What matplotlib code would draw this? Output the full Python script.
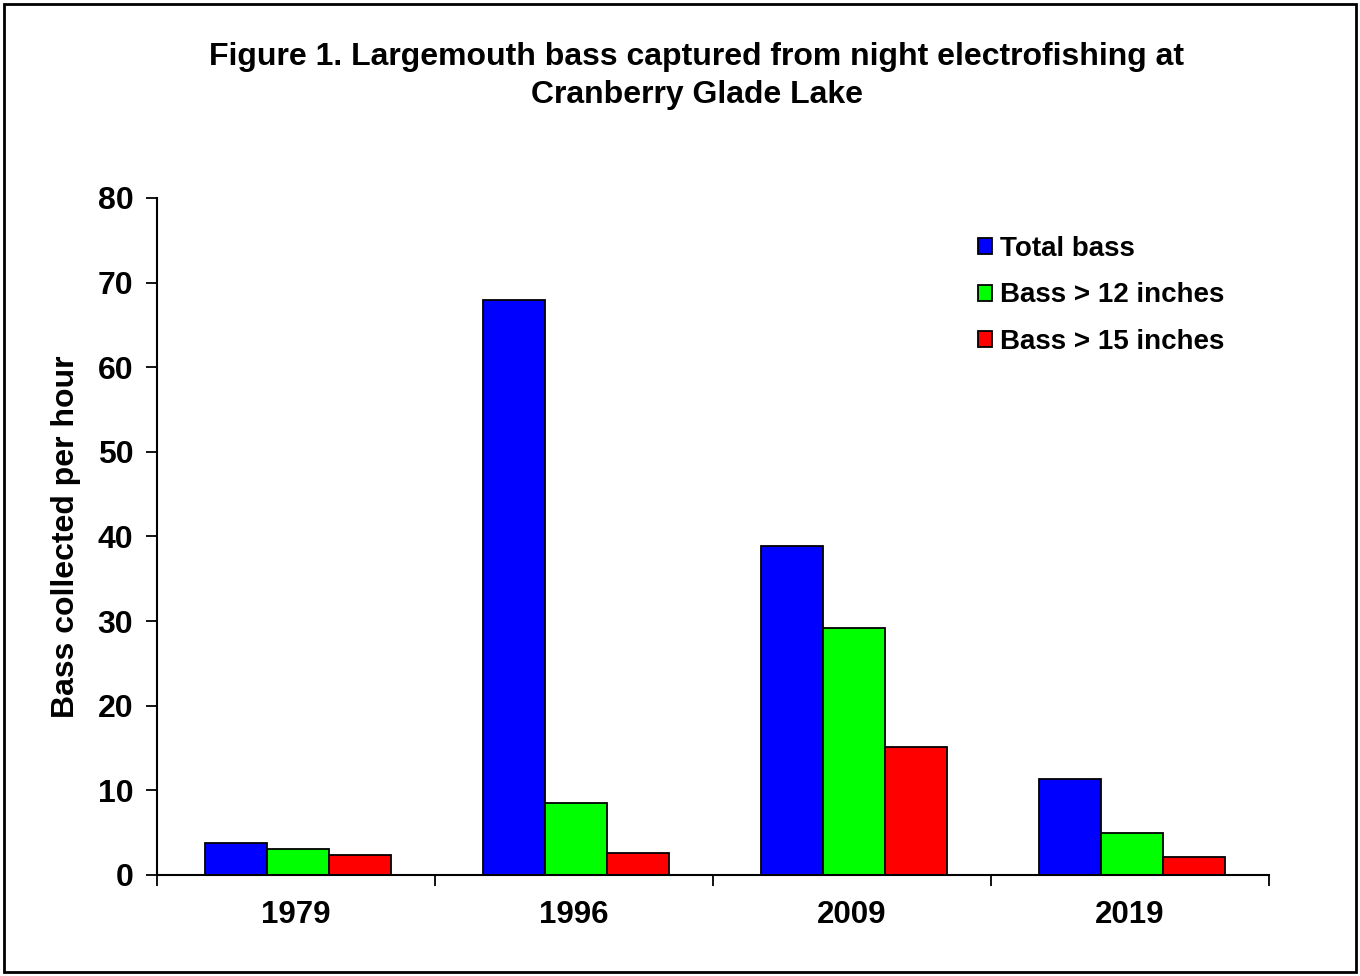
import matplotlib
matplotlib.use("Agg")
import matplotlib.pyplot as plt
import numpy as np
from matplotlib.patches import Rectangle

years = ["1979", "1996", "2009", "2019"]
series_names = ["Total bass", "Bass > 12 inches", "Bass > 15 inches"]
total_bass = [3.8, 68.0, 38.9, 11.3]
bass_12 = [3.1, 8.5, 29.2, 5.0]
bass_15 = [2.4, 2.6, 15.1, 2.1]
colors = ["#0000FF", "#00FF00", "#FF0000"]
yticks = [0, 10, 20, 30, 40, 50, 60, 70, 80]

plt.rcParams['font.family'] = ['Liberation Sans', 'DejaVu Sans']
plt.rcParams['font.weight'] = 'bold'

fig = plt.figure(figsize=(13.6, 9.76), dpi=100)
ax = fig.add_axes([157/1360, 1-875/976, (1269-157)/1360, (875-198)/976])

x = np.arange(len(years))
w = 0.223
for i, (vals, c, name) in enumerate(zip([total_bass, bass_12, bass_15], colors, series_names)):
    ax.bar(x + (i-1)*w + 0.007, vals, width=w, color=c, edgecolor='black', linewidth=1.3, label=name, zorder=2)

ax.set_xlim(-0.5, len(years)-0.5)
ax.set_ylim(0, 80)
ax.set_yticks(yticks)
ax.set_yticklabels([str(t) for t in yticks], fontsize=23, fontweight='bold')
ax.set_xticks(x)
ax.set_xticklabels(years, fontsize=22.5, fontweight='bold')
ax.set_xticks(np.arange(len(years)+1)-0.5, minor=True)
ax.tick_params(axis='x', which='major', length=0, pad=18)
ax.tick_params(axis='x', which='minor', length=8, width=1.3, direction='out')
ax.tick_params(axis='y', length=8, width=1.3, direction='out', pad=9)
for s in ['top', 'right']:
    ax.spines[s].set_visible(False)
for s in ['left', 'bottom']:
    ax.spines[s].set_linewidth(1.5)
ax.set_ylabel("Bass collected per hour", fontsize=23, fontweight='bold', labelpad=12)

leg = ax.legend(loc='upper left', bbox_to_anchor=(0.7285, 0.960), frameon=False,
                prop={'size': 20, 'weight': 'bold'}, handlelength=0.5, handleheight=0.5,
                handletextpad=0.3, labelspacing=0.73, borderaxespad=0)

fig.text(697/1360, 1-57/976, "Figure 1. Largemouth bass captured from night electrofishing at",
         ha='center', va='center', fontsize=23, fontweight='bold')
fig.text(697/1360, 1-95/976, "Cranberry Glade Lake",
         ha='center', va='center', fontsize=23, fontweight='bold')

fig.patches.append(Rectangle((4/1360, 4/976), 1352/1360, 968/976, transform=fig.transFigure,
                             fill=False, edgecolor='black', linewidth=2))

fig.savefig("out.png", dpi=100)
